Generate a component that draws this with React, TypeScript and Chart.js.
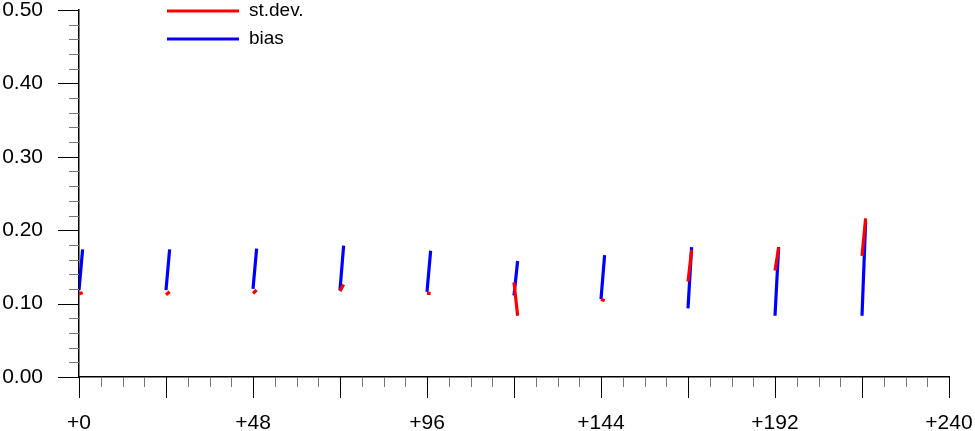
import React, { useEffect, useRef } from "react";
import { Chart, registerables } from "chart.js";

Chart.register(...registerables);

// Lead times (hours) at which each short segment starts
const segmentStarts = [0, 24, 48, 72, 96, 120, 144, 168, 192, 216];
// st.dev. values at segment start / end
const stdevStart = [0.113, 0.112, 0.114, 0.117, 0.114, 0.129, 0.106, 0.13, 0.145, 0.165];
const stdevEnd = [0.115, 0.116, 0.1185, 0.126, 0.114, 0.0835, 0.104, 0.173, 0.176, 0.216];
// bias values at segment start / end
const biasStart = [0.1185, 0.1185, 0.12, 0.1185, 0.116, 0.111, 0.106, 0.0936, 0.0835, 0.0835];
const biasEnd = [0.174, 0.174, 0.175, 0.179, 0.172, 0.158, 0.166, 0.177, 0.177, 0.2116];

const seriesLabels = ["st.dev.", "bias"];
const seriesColors = ["#ff0000", "#0000ff"];

const FONT = "'Liberation Sans', Arial, Helvetica, sans-serif";

function buildPoints(starts: number[], ends: number[]) {
  const pts: { x: number; y: number | null }[] = [];
  segmentStarts.forEach((s, i) => {
    pts.push({ x: s, y: starts[i] });
    pts.push({ x: s + 1, y: ends[i] });
    pts.push({ x: s + 1.5, y: null });
  });
  return pts;
}

const tickPlugin = {
  id: "customTicks",
  afterDraw(chart: any) {
    const ctx = chart.ctx;
    const xs = chart.scales.x;
    const ys = chart.scales.y;
    const bottom = chart.chartArea.bottom;
    const left = chart.chartArea.left;
    ctx.save();
    ctx.lineWidth = 1;
    for (let v = 0; v <= 240; v += 6) {
      const px = Math.round(xs.getPixelForValue(v)) + 0.5;
      const major = v % 24 === 0;
      ctx.strokeStyle = major ? "#000" : "#777";
      ctx.beginPath();
      ctx.moveTo(px, bottom);
      ctx.lineTo(px, bottom + (major ? 21 : 10));
      ctx.stroke();
    }
    for (let i = 0; i <= 25; i++) {
      const v = i * 0.02;
      const py = Math.round(ys.getPixelForValue(v)) + 0.5;
      const major = i % 5 === 0;
      ctx.strokeStyle = major ? "#000" : "#777";
      ctx.beginPath();
      ctx.moveTo(left, py);
      ctx.lineTo(left - (major ? 21 : 10), py);
      ctx.stroke();
    }
    ctx.restore();
  },
};

const legendPlugin = {
  id: "customLegend",
  afterDraw(chart: any) {
    const ctx = chart.ctx;
    ctx.save();
    ctx.font = `19px ${FONT}`;
    ctx.textBaseline = "middle";
    ctx.textAlign = "left";
    const rows = [11, 39];
    chart.data.datasets.forEach((ds: any, i: number) => {
      const y = rows[i];
      ctx.strokeStyle = ds.borderColor;
      ctx.lineWidth = 3;
      ctx.beginPath();
      ctx.moveTo(167, y);
      ctx.lineTo(239, y);
      ctx.stroke();
      ctx.fillStyle = "#000";
      ctx.fillText(ds.label, 249, y);
    });
    ctx.restore();
  },
};

function zeroPad(s: any) {
  s.paddingTop = 0;
  s.paddingBottom = 0;
  s.paddingLeft = 0;
  s.paddingRight = 0;
}

export default function App() {
  const ref = useRef<HTMLCanvasElement>(null);
  useEffect(() => {
    if (!ref.current) return;
    const chart = new Chart(ref.current, {
      type: "line",
      data: {
        datasets: [
          {
            label: seriesLabels[0],
            data: buildPoints(stdevStart, stdevEnd) as any,
            borderColor: seriesColors[0],
            borderWidth: 3.2,
            pointRadius: 0,
            spanGaps: false,
            tension: 0,
          },
          {
            label: seriesLabels[1],
            data: buildPoints(biasStart, biasEnd) as any,
            borderColor: seriesColors[1],
            borderWidth: 3.2,
            pointRadius: 0,
            spanGaps: false,
            tension: 0,
          },
        ],
      },
      options: {
        animation: false,
        responsive: false,
        devicePixelRatio: 1,
        layout: { padding: { left: 0, right: 26, top: 10, bottom: 0 } },
        plugins: { legend: { display: false }, tooltip: { enabled: false } },
        scales: {
          x: {
            type: "linear",
            min: 0,
            max: 240,
            afterFit: (s: any) => {
              s.height = 54;
              zeroPad(s);
            },
            grid: { display: false, drawTicks: false, tickLength: 0 },
            border: { display: true, color: "#000", width: 1.5 },
            ticks: {
              stepSize: 48,
              autoSkip: false,
              maxRotation: 0,
              padding: 34,
              color: "#000",
              font: { family: FONT, size: 21 },
              callback: (v: any) => "+" + v,
            },
          },
          y: {
            type: "linear",
            min: 0,
            max: 0.5,
            afterFit: (s: any) => {
              s.width = 79;
              zeroPad(s);
            },
            grid: { display: false, drawTicks: false, tickLength: 0 },
            border: { display: true, color: "#000", width: 1.5 },
            ticks: {
              stepSize: 0.1,
              padding: 36,
              color: "#000",
              font: { family: FONT, size: 21 },
              callback: (v: any) => Number(v).toFixed(2),
            },
          },
        },
      },
      plugins: [tickPlugin, legendPlugin],
    });
    return () => chart.destroy();
  }, []);
  return (
    <div style={{ position: "absolute", left: 0, top: 0, width: 975, height: 431 }}>
      <canvas ref={ref} width={975} height={431} />
    </div>
  );
}
